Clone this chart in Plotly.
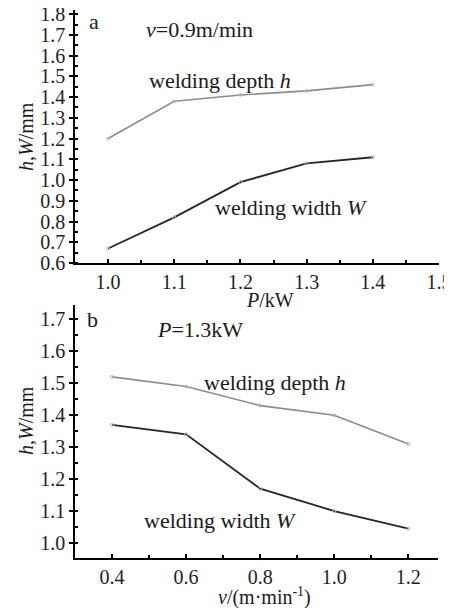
import plotly.graph_objects as go

# Panel a: v = 0.9 m/min
power_kw = [1.0, 1.1, 1.2, 1.3, 1.4]
depth_a = [1.20, 1.38, 1.41, 1.43, 1.46]
width_a = [0.67, 0.82, 0.99, 1.08, 1.11]

# Panel b: P = 1.3 kW
speed = [0.4, 0.6, 0.8, 1.0, 1.2]
depth_b = [1.52, 1.49, 1.43, 1.40, 1.31]
width_b = [1.37, 1.34, 1.17, 1.10, 1.045]

OFF = 8                     # page body margin
W, H = 452 - OFF, 608 - OFF
FONT = "Liberation Serif"
GRAY = "#8c8c8c"
DARK = "#262626"

def px(x):
    return (x - OFF) / W

def py(y):
    return 1 - (y - OFF) / H

fig = go.Figure()

def add_series(x, y, color, width, xa, ya):
    fig.add_trace(go.Scatter(
        x=x, y=y, mode="lines+markers", xaxis=xa, yaxis=ya,
        line=dict(color=color, width=width),
        marker=dict(symbol="circle-open", size=3, color="#bbbbbb", line=dict(width=1)),
        showlegend=False, hoverinfo="skip"))

add_series(power_kw, depth_a, GRAY, 1.6, "x", "y")
add_series(power_kw, width_a, DARK, 1.8, "x", "y")
add_series(speed, depth_b, GRAY, 1.6, "x2", "y2")
add_series(speed, width_b, DARK, 1.8, "x2", "y2")

axis_common = dict(showline=True, linecolor="black", linewidth=1.6, showgrid=False,
                   zeroline=False, tickfont=dict(family=FONT, size=20, color="#1e1e1e"),
                   tickcolor="black", ticklen=4, tickwidth=1.5,
                   automargin=False)

fig.update_layout(
    width=W, height=H, margin=dict(l=0, r=0, t=0, b=0),
    paper_bgcolor="white", plot_bgcolor="white",
    xaxis=dict(domain=[px(75), px(439)], range=[0.95, 1.5], anchor="y",
               tickvals=[1.0, 1.1, 1.2, 1.3, 1.4, 1.5], ticktext=["1.0", "1.1", "1.2", "1.3", "1.4", "1.5"],
               ticks="inside", minor=dict(dtick=0.05, tick0=0.95, ticks="inside", ticklen=3, tickcolor="black"),
               **axis_common),
    yaxis=dict(domain=[py(263), py(10)], range=[0.6, 1.82], anchor="x",
               tickvals=[0.6, 0.7, 0.8, 0.9, 1.0, 1.1, 1.2, 1.3, 1.4, 1.5, 1.6, 1.7, 1.8],
               ticktext=["0.6", "0.7", "0.8", "0.9", "1.0", "1.1", "1.2", "1.3", "1.4", "1.5", "1.6", "1.7", "1.8"],
               ticks="outside", minor=dict(dtick=0.05, tick0=0.6, ticks="inside", ticklen=3, tickcolor="black"),
               ticklabeloverflow="allow",
               **axis_common),
    xaxis2=dict(domain=[px(75), px(438)], range=[0.3, 1.28], anchor="y2",
                tickvals=[0.4, 0.6, 0.8, 1.0, 1.2], ticktext=["0.4", "0.6", "0.8", "1.0", "1.2"],
                ticks="inside", minor=dict(dtick=0.1, tick0=0.3, ticks="inside", ticklen=3, tickcolor="black"),
                **axis_common),
    yaxis2=dict(domain=[py(558), py(305)], range=[0.953, 1.745], anchor="x2",
                tickvals=[1.0, 1.1, 1.2, 1.3, 1.4, 1.5, 1.6, 1.7],
                ticktext=["1.0", "1.1", "1.2", "1.3", "1.4", "1.5", "1.6", "1.7"],
                ticks="outside", minor=dict(dtick=0.05, tick0=0.95, ticks="inside", ticklen=3, tickcolor="black"),
                **axis_common),
)

def label(x, y, text, size=22, angle=0, xanchor="left"):
    fig.add_annotation(x=px(x), y=py(y), xref="paper", yref="paper", text=text,
                       showarrow=False, xanchor=xanchor, yanchor="middle", textangle=angle,
                       borderpad=0,
                       font=dict(family=FONT, size=size, color="#1a1a1a"))

# Panel a labels
label(88, 21, "a", 22)
label(145, 30, "<i>v</i>=0.9m/min", 22)
label(148, 80, "welding depth <i>h</i>", 22)
label(214, 207, "welding width <i>W</i>", 22)
label(26, 137, "<i>h</i>,<i>W</i>/mm", 20, angle=-90, xanchor="center")
label(270, 300, "<i>P</i>/kW", 20, xanchor="center")

# Panel b labels
label(86, 319, "b", 22)
label(156, 329, "<i>P</i>=1.3kW", 22)
label(203, 382, "welding depth <i>h</i>", 22)
label(143, 520, "welding width <i>W</i>", 22)
label(26, 421, "<i>h</i>,<i>W</i>/mm", 20, angle=-90, xanchor="center")
label(264, 596, "<i>v</i>/(m·min<sup>-1</sup>)", 20, xanchor="center")

fig.write_html("out.html")
